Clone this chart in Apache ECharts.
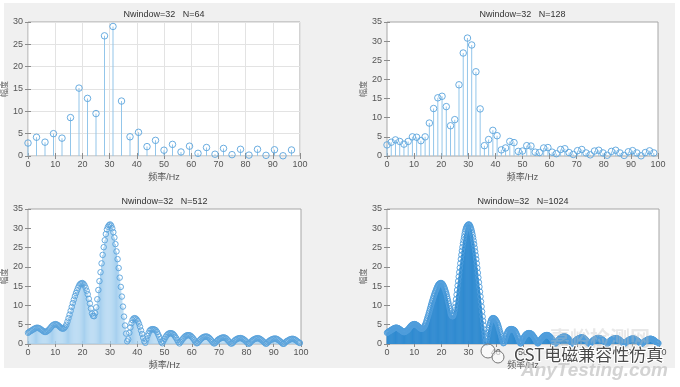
<!DOCTYPE html>
<html>
<head>
<meta charset="utf-8">
<script src="https://cdn.jsdelivr.net/npm/echarts@6/dist/echarts.min.js"></script>
<style>html,body{margin:0;padding:0;background:#fff;}#c{width:680px;height:387px;}</style>
</head>
<body>
<div id="c"></div>
<script>
// Sampling rate (Hz) and FFT lengths
const FS = 200;
const N_LIST = [64, 128, 512, 1024];
const TITLES = ['Nwindow=32   N=64', 'Nwindow=32   N=128', 'Nwindow=32   N=512', 'Nwindow=32   N=1024'];
const Y_MAX = [30, 35, 35, 35];
const X_NAME = '频率/Hz';
const Y_NAME = '幅度';

const mag64 = [2.9,4.2,3.1,5.0,4.0,8.6,15.2,12.9,9.5,26.9,29.0,12.3,4.3,5.3,2.1,3.5,
  1.3,2.6,0.9,2.2,0.6,1.9,0.4,1.7,0.3,1.5,0.2,1.5,0.15,1.4,0.05,1.35];

const mag128 = [2.9,3.6,4.2,3.8,3.1,3.8,5.0,4.9,4.0,5.0,8.6,12.4,15.2,15.6,12.9,7.9,
  9.5,18.6,26.9,30.8,29.0,22.0,12.3,2.7,4.3,6.7,5.3,1.6,2.1,3.8,3.5,1.2,
  1.3,2.7,2.6,1.0,0.9,2.1,2.2,1.0,0.6,1.7,1.9,0.9,0.4,1.4,1.7,0.8,
  0.3,1.3,1.5,0.8,0.2,1.2,1.5,0.8,0.15,1.1,1.4,0.8,0.05,0.9,1.35,0.8];

const mag512 = [
  2.9,3.1,3.3,3.45, 3.6,3.8,3.95,4.1, 4.2,4.2,4.15,4.0, 3.8,3.6,3.4,3.2,
  3.1,3.15,3.35,3.55, 3.8,4.15,4.5,4.8, 5.0,5.1,5.15,5.05, 4.9,4.65,4.4,4.15,
  4.0,3.95,4.15,4.5, 5.0,5.8,6.7,7.6, 8.6,9.6,10.6,11.5, 12.4,13.2,13.9,14.6,
  15.2,15.55,15.75,15.8, 15.6,15.2,14.6,13.8, 12.9,11.7,10.5,9.2, 7.9,7.3,7.2,8.0,
  9.5,11.6,14.0,16.3, 18.6,20.9,23.1,25.1, 26.9,28.5,29.7,30.4, 30.8,31.0,30.7,30.0,
  29.0,27.6,25.9,24.0, 22.0,19.7,17.2,14.8, 12.3,9.7,7.1,4.8, 2.7,0.7,1.2,2.9,
  4.3,5.4,6.2,6.6, 6.7,6.6,6.3,5.9, 5.3,4.5,3.5,2.6, 1.6,0.7,0.3,1.2,
  2.1,2.8,3.4,3.7, 3.8,3.85,3.8,3.7, 3.5,3.1,2.5,1.9, 1.2,0.5,0.2,0.8,
  1.3,1.8,2.2,2.5, 2.7,2.8,2.8,2.75, 2.6,2.3,1.9,1.5, 1.0,0.5,0.15,0.5,
  0.9,1.3,1.6,1.9, 2.1,2.25,2.3,2.3, 2.2,2.0,1.7,1.4, 1.0,0.6,0.2,0.25,
  0.6,0.95,1.25,1.5, 1.7,1.85,1.9,1.95, 1.9,1.75,1.55,1.25, 0.9,0.55,0.2,0.15,
  0.4,0.75,1.05,1.25, 1.4,1.55,1.65,1.7, 1.7,1.6,1.4,1.1, 0.8,0.5,0.15,0.1,
  0.3,0.65,0.95,1.15, 1.3,1.45,1.5,1.55, 1.5,1.4,1.25,1.05, 0.8,0.5,0.2,0.05,
  0.2,0.55,0.85,1.05, 1.2,1.35,1.45,1.5, 1.5,1.4,1.25,1.05, 0.8,0.55,0.3,0.05,
  0.15,0.45,0.75,0.95, 1.1,1.25,1.35,1.4, 1.4,1.35,1.2,1.0, 0.8,0.55,0.3,0.05,
  0.05,0.35,0.6,0.8, 0.9,1.1,1.25,1.3, 1.35,1.3,1.2,1.05, 0.8,0.6,0.4,0.25];

const mag1024 = [
  2.9,3.0, 3.1,3.2, 3.3,3.38, 3.45,3.52, 3.6,3.7, 3.8,3.88, 3.95,4.03, 4.1,4.16,
  4.2,4.21, 4.2,4.18, 4.15,4.08, 4.0,3.9, 3.8,3.7, 3.6,3.5, 3.4,3.3, 3.2,3.13,
  3.1,3.11, 3.15,3.24, 3.35,3.45, 3.55,3.67, 3.8,3.98, 4.15,4.33, 4.5,4.66, 4.8,4.92,
  5.0,5.06, 5.1,5.14, 5.15,5.11, 5.05,4.98, 4.9,4.78, 4.65,4.52, 4.4,4.27, 4.15,4.06,
  4.0,3.95, 3.95,4.03, 4.15,4.3, 4.5,4.72, 5.0,5.38, 5.8,6.25, 6.7,7.15, 7.6,8.1,
  8.6,9.1, 9.6,10.1, 10.6,11.05, 11.5,11.95, 12.4,12.8, 13.2,13.55, 13.9,14.25, 14.6,14.92,
  15.2,15.4, 15.55,15.67, 15.75,15.79, 15.8,15.72, 15.6,15.42, 15.2,14.93, 14.6,14.22, 13.8,13.37,
  12.9,12.32, 11.7,11.1, 10.5,9.85, 9.2,8.52, 7.9,7.55, 7.3,7.2, 7.2,7.5, 8.0,8.7,
  9.5,10.5, 11.6,12.8, 14.0,15.15, 16.3,17.45, 18.6,19.75, 20.9,22.0, 23.1,24.15, 25.1,26.05,
  26.9,27.7, 28.5,29.15, 29.7,30.1, 30.4,30.65, 30.8,30.95, 31.0,30.9, 30.7,30.4, 30.0,29.55,
  29.0,28.35, 27.6,26.8, 25.9,24.98, 24.0,23.0, 22.0,20.9, 19.7,18.45, 17.2,16.0, 14.8,13.55,
  12.3,11.0, 9.7,8.4, 7.1,5.95, 4.8,3.75, 2.7,1.7, 0.7,0.3, 1.2,2.05, 2.9,3.6,
  4.3,4.9, 5.4,5.85, 6.2,6.45, 6.6,6.68, 6.7,6.67, 6.6,6.47, 6.3,6.12, 5.9,5.62,
  5.3,4.92, 4.5,4.02, 3.5,3.05, 2.6,2.1, 1.6,1.15, 0.7,0.2, 0.3,0.7, 1.2,1.65,
  2.1,2.47, 2.8,3.12, 3.4,3.57, 3.7,3.77, 3.8,3.84, 3.85,3.83, 3.8,3.76, 3.7,3.62,
  3.5,3.32, 3.1,2.82, 2.5,2.2, 1.9,1.55, 1.2,0.85, 0.5,0.15, 0.2,0.45, 0.8,1.05,
  1.3,1.55, 1.8,2.0, 2.2,2.35, 2.5,2.6, 2.7,2.76, 2.8,2.81, 2.8,2.78, 2.75,2.68,
  2.6,2.45, 2.3,2.1, 1.9,1.7, 1.5,1.25, 1.0,0.75, 0.5,0.25, 0.15,0.3, 0.5,0.7,
  0.9,1.1, 1.3,1.45, 1.6,1.75, 1.9,2.0, 2.1,2.18, 2.25,2.28, 2.3,2.31, 2.3,2.26,
  2.2,2.1, 2.0,1.85, 1.7,1.55, 1.4,1.2, 1.0,0.8, 0.6,0.4, 0.2,0.05, 0.25,0.42,
  0.6,0.78, 0.95,1.1, 1.25,1.38, 1.5,1.6, 1.7,1.78, 1.85,1.88, 1.9,1.93, 1.95,1.93,
  1.9,1.83, 1.75,1.66, 1.55,1.42, 1.25,1.08, 0.9,0.72, 0.55,0.38, 0.2,0.05, 0.15,0.27,
  0.4,0.58, 0.75,0.9, 1.05,1.16, 1.25,1.33, 1.4,1.48, 1.55,1.6, 1.65,1.68, 1.7,1.71,
  1.7,1.66, 1.6,1.5, 1.4,1.26, 1.1,0.95, 0.8,0.65, 0.5,0.32, 0.15,0.02, 0.1,0.2,
  0.3,0.48, 0.65,0.8, 0.95,1.06, 1.15,1.23, 1.3,1.38, 1.45,1.48, 1.5,1.53, 1.55,1.53,
  1.5,1.46, 1.4,1.33, 1.25,1.15, 1.05,0.93, 0.8,0.65, 0.5,0.35, 0.2,0.1, 0.05,0.1,
  0.2,0.38, 0.55,0.7, 0.85,0.96, 1.05,1.13, 1.2,1.28, 1.35,1.4, 1.45,1.48, 1.5,1.51,
  1.5,1.46, 1.4,1.33, 1.25,1.15, 1.05,0.93, 0.8,0.68, 0.55,0.42, 0.3,0.17, 0.05,0.05,
  0.15,0.3, 0.45,0.6, 0.75,0.85, 0.95,1.03, 1.1,1.18, 1.25,1.3, 1.35,1.38, 1.4,1.41,
  1.4,1.38, 1.35,1.28, 1.2,1.1, 1.0,0.9, 0.8,0.68, 0.55,0.42, 0.3,0.17, 0.05,0.02,
  0.05,0.2, 0.35,0.48, 0.6,0.7, 0.8,0.85, 0.9,1.0, 1.1,1.18, 1.25,1.28, 1.3,1.33,
  1.35,1.33, 1.3,1.25, 1.2,1.13, 1.05,0.93, 0.8,0.7, 0.6,0.5, 0.4,0.32, 0.25,0.18];

const MAGS = [mag64, mag128, mag512, mag1024];

// ---- layout / style (not data) ----
const FONT = '"Liberation Sans", Arial, "Noto Sans CJK SC", sans-serif';
const GRIDS = [
  {left: 28, top: 22, width: 272, height: 134},
  {left: 387, top: 22, width: 271, height: 134},
  {left: 28, top: 209, width: 273, height: 135},
  {left: 387, top: 209, width: 272, height: 135}
];
const STEM_COLORS = ['#93c6ea', '#93c6ea', '#a6d0ef', '#2f8ad0'];
const MARK_COLORS = ['#5aa4dc', '#5aa4dc', '#5aa3db', '#4f9ddb'];
const MARK_SIZES = [6.5, 6.5, 5.5, 5.5];

const grid = [], xAxis = [], yAxis = [], series = [], graphic = [];
graphic.push({type: 'rect', shape: {x: 4, y: 3, width: 671, height: 365}, style: {fill: '#f0f0f0'}, z: -10, silent: true});

GRIDS.forEach((g, i) => {
  grid.push(Object.assign({show: true, backgroundColor: '#ffffff', borderColor: '#a6a6a6', borderWidth: 1}, g));
  const tickStyle = {color: '#8c8c8c', width: 1};
  xAxis.push({
    gridIndex: i, type: 'value', min: 0, max: 100, interval: 10, position: 'bottom',
    axisLine: {show: false}, axisTick: {inside: true, length: 3, lineStyle: tickStyle},
    axisLabel: {fontSize: 9, color: '#555', margin: 4, fontFamily: FONT},
    splitLine: {show: i === 0, lineStyle: {color: '#e3e3e3', width: 1}},
    name: X_NAME, nameLocation: 'middle', nameGap: 17,
    nameTextStyle: {fontSize: 9, color: '#555', fontFamily: FONT}
  });
  xAxis.push({
    gridIndex: i, type: 'value', min: 0, max: 100, interval: 10, position: 'top',
    axisLine: {show: false}, axisTick: {inside: true, length: 3, lineStyle: tickStyle},
    axisLabel: {show: false}, splitLine: {show: false}
  });
  yAxis.push({
    gridIndex: i, type: 'value', min: 0, max: Y_MAX[i], interval: 5, position: 'left',
    axisLine: {show: false}, axisTick: {inside: true, length: 3, lineStyle: tickStyle},
    axisLabel: {fontSize: 9, color: '#555', margin: 5, fontFamily: FONT},
    splitLine: {show: i === 0, lineStyle: {color: '#e3e3e3', width: 1}},
    name: Y_NAME, nameLocation: 'middle', nameGap: 15,
    nameTextStyle: {fontSize: 8, color: '#666', fontFamily: FONT}
  });
  yAxis.push({
    gridIndex: i, type: 'value', min: 0, max: Y_MAX[i], interval: 5, position: 'right',
    axisLine: {show: false}, axisTick: {inside: true, length: 3, lineStyle: tickStyle},
    axisLabel: {show: false}, splitLine: {show: false}
  });
  const N = N_LIST[i];
  const pts = MAGS[i].map((v, k) => [k * FS / N, v]);
  series.push({
    type: 'bar', xAxisIndex: 2 * i, yAxisIndex: 2 * i, data: pts, barWidth: 1,
    itemStyle: {color: STEM_COLORS[i]}, silent: true, animation: false, z: 2
  });
  series.push({
    type: 'scatter', xAxisIndex: 2 * i, yAxisIndex: 2 * i, data: pts,
    symbol: 'circle', symbolSize: MARK_SIZES[i],
    itemStyle: {color: 'rgba(255,255,255,0)', borderColor: MARK_COLORS[i], borderWidth: 0.9, opacity: 1},
    silent: true, animation: false, z: 3
  });
  graphic.push({
    type: 'text', x: g.left + g.width / 2, y: g.top - 7, z: 20,
    style: {text: TITLES[i], textAlign: 'center', textVerticalAlign: 'middle', fontSize: 9, fill: '#333', fontFamily: FONT}
  });
});

// watermark
graphic.push({type: 'text', x: 600, y: 338, z: 30, style: {text: '嘉峪检测网', textAlign: 'center', textVerticalAlign: 'middle', fontSize: 20, fontWeight: 'bold', fill: 'rgba(190,190,190,0.35)', fontFamily: '"Noto Sans CJK SC", sans-serif'}});
graphic.push({type: 'circle', shape: {cx: 488, cy: 351, r: 7}, z: 30, style: {fill: 'rgba(255,255,255,0.6)', stroke: '#777', lineWidth: 1}});
graphic.push({type: 'circle', shape: {cx: 498, cy: 357, r: 6}, z: 30, style: {fill: 'rgba(255,255,255,0.6)', stroke: '#777', lineWidth: 1}});
graphic.push({type: 'text', x: 514, y: 355, z: 31, style: {text: 'CST电磁兼容性仿真', textAlign: 'left', textVerticalAlign: 'middle', fontSize: 17, fill: '#4a4a4a', stroke: '#ffffff', lineWidth: 2, fontFamily: '"Noto Sans CJK SC", sans-serif'}});
graphic.push({type: 'text', x: 668, y: 371, z: 29, style: {text: 'AnyTesting.com', textAlign: 'right', textVerticalAlign: 'middle', fontSize: 19, fontStyle: 'italic', fontWeight: 'bold', fill: 'rgba(200,200,200,0.8)', fontFamily: '"Liberation Sans", Arial, sans-serif'}});

const chart = echarts.init(document.getElementById('c'), null, {renderer: 'canvas'});
chart.setOption({animation: false, backgroundColor: '#ffffff', grid, xAxis, yAxis, series, graphic});
</script>
</body>
</html>
